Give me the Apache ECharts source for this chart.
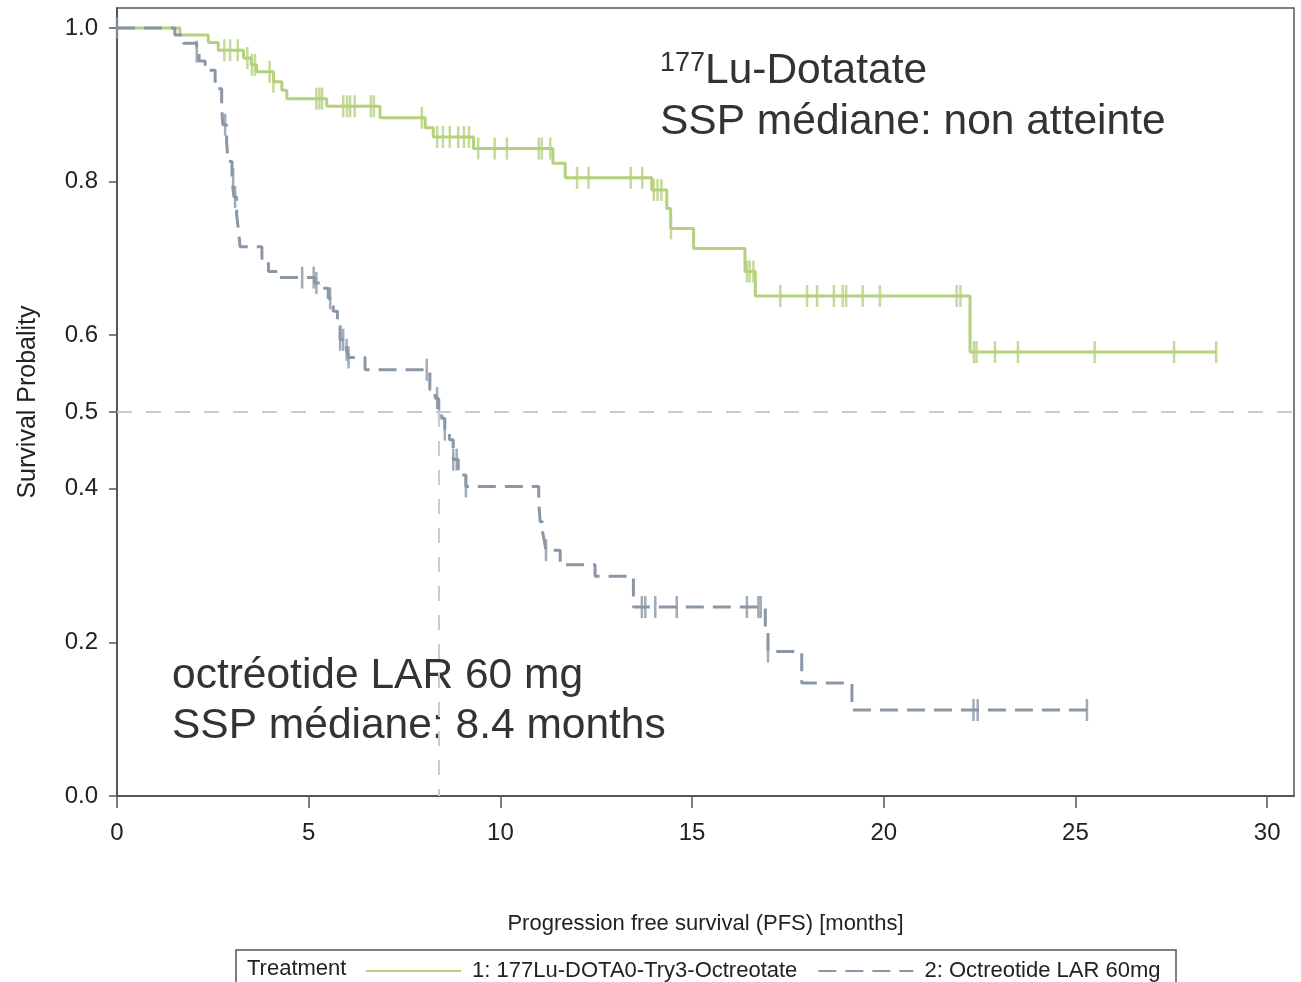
<!DOCTYPE html>
<html><head><meta charset="utf-8">
<script src="https://cdn.jsdelivr.net/npm/echarts@6/dist/echarts.min.js"></script>
<style>html,body{margin:0;padding:0;background:#fff}#c{width:1301px;height:982px}</style>
</head><body><div id="c"></div>
<script>
// ---- data ----
const xTicks = [0, 5, 10, 15, 20, 25, 30];
const yTicks = [0, 0.2, 0.4, 0.5, 0.6, 0.8, 1.0];

const luName = '1: 177Lu-DOTA0-Try3-Octreotate';
const luTimes = [0, 1.64, 2.38, 2.64, 3.30, 3.50, 3.64, 4.08, 4.30, 4.43, 5.47, 6.86, 8.04, 8.25, 9.30, 11.37, 11.69, 13.95, 14.34, 14.44, 15.04, 16.38, 16.65, 22.25, 28.67];
const luSurv  = [1.000, 0.991, 0.981, 0.971, 0.961, 0.952, 0.943, 0.930, 0.919, 0.908, 0.898, 0.883, 0.870, 0.858, 0.843, 0.824, 0.805, 0.789, 0.765, 0.739, 0.713, 0.683, 0.651, 0.578, 0.578];
const luCensor = [2.80, 2.95, 3.15, 3.40, 3.52, 3.60, 3.98, 4.08, 5.20, 5.28, 5.35, 5.90, 6.00, 6.08, 6.20, 6.62, 6.70, 7.95, 8.35, 8.50, 8.68, 8.90, 9.05, 9.18, 9.42, 9.85, 10.17, 11.00, 11.08, 11.30, 12.00, 12.30, 13.40, 13.70, 14.00, 14.10, 14.20, 14.45, 16.43, 16.50, 16.60, 17.30, 18.00, 18.26, 18.70, 18.93, 19.02, 19.45, 19.90, 21.90, 22.00, 22.35, 22.42, 22.90, 23.50, 25.50, 27.57, 28.67];

const ocName = '2: Octreotide LAR 60mg';
const ocTimes = [0, 1.51, 1.73, 2.08, 2.14, 2.30, 2.56, 2.73, 2.76, 2.86, 2.90, 3.00, 3.05, 3.12, 3.17, 3.21, 3.78, 3.95, 4.25, 5.16, 5.34, 5.51, 5.64, 5.75, 5.82, 5.99, 6.04, 6.47, 8.16, 8.30, 8.38, 8.47, 8.55, 8.67, 8.77, 8.90, 9.10, 11.00, 11.04, 11.10, 11.15, 11.19, 11.56, 12.47, 13.47, 16.91, 16.98, 17.86, 19.17, 25.30];
const ocSurv  = [1.000, 0.991, 0.980, 0.969, 0.957, 0.945, 0.921, 0.898, 0.874, 0.850, 0.826, 0.803, 0.780, 0.757, 0.736, 0.715, 0.700, 0.683, 0.675, 0.668, 0.661, 0.648, 0.631, 0.613, 0.594, 0.581, 0.571, 0.555, 0.529, 0.518, 0.503, 0.492, 0.477, 0.464, 0.438, 0.418, 0.403, 0.381, 0.357, 0.344, 0.331, 0.320, 0.301, 0.286, 0.246, 0.217, 0.188, 0.147, 0.112, 0.112];
const ocCensor = [0, 2.08, 2.82, 3.03, 3.08, 4.83, 5.13, 5.20, 5.56, 5.82, 5.90, 5.99, 6.04, 8.08, 8.35, 8.40, 8.55, 8.77, 8.86, 9.10, 11.19, 13.69, 13.78, 14.04, 14.60, 16.43, 16.73, 16.79, 16.98, 22.34, 22.45, 25.30];

const medianOct = 8.4;
const refLevel = 0.5;

// ---- helpers ----
function stepAt(times, surv, t) {
  let s = surv[0];
  for (let i = 0; i < times.length; i++) if (times[i] <= t + 1e-9) s = surv[i];
  return s;
}
const pairs = (ts, ss) => ts.map((t, i) => [t, ss[i]]);
const censorPts = (cs, ts, ss) => cs.map(t => [t, stepAt(ts, ss, t)]);

const GREEN = '#b4d27c';
const GREY = '#8a97a6';
const FONT = 'Liberation Sans, Arial, sans-serif';

const chart = echarts.init(document.getElementById('c'), null, {renderer: 'canvas'});
chart.setOption({
  animation: false,
  backgroundColor: '#fff',
  grid: {left: 117, right: 7, top: 8, bottom: 186, show: true, borderColor: '#555', borderWidth: 1.5, backgroundColor: 'transparent'},
  xAxis: {
    type: 'value', min: 0, max: 30.7,
    name: 'Progression free survival (PFS) [months]', nameLocation: 'middle', nameGap: 117,
    nameTextStyle: {fontFamily: FONT, fontSize: 22, color: '#222'},
    axisLine: {show: true, onZero: false, lineStyle: {color: '#555', width: 2}},
    axisTick: {show: true, length: 12, customValues: xTicks, lineStyle: {color: '#555', width: 1.5}},
    axisLabel: {customValues: xTicks, fontFamily: FONT, fontSize: 24, color: '#222', margin: 25},
    splitLine: {show: false}
  },
  yAxis: {
    type: 'value', min: 0, max: 1.026,
    name: 'Survival Probality', nameLocation: 'middle', nameGap: 76,
    nameTextStyle: {fontFamily: FONT, fontSize: 25, color: '#222'},
    axisLine: {show: true, onZero: false, lineStyle: {color: '#555', width: 2}},
    axisTick: {show: true, length: 8, customValues: yTicks, lineStyle: {color: '#555', width: 1.5}},
    axisLabel: {customValues: yTicks, fontFamily: FONT, fontSize: 24, color: '#222', margin: 19,
      formatter: v => v.toFixed(1)},
    splitLine: {show: false}
  },
  legend: {
    left: 360, top: 955, itemWidth: 95, itemHeight: 14, itemGap: 20,
    data: [luName, ocName],
    itemStyle: {opacity: 0, borderWidth: 0},
    textStyle: {fontFamily: FONT, fontSize: 22, color: '#222'},
    formatter: n => ' ' + n
  },
  graphic: [
    {type: 'rect', shape: {x: 236, y: 950, width: 940, height: 50}, style: {fill: 'none', stroke: '#555', lineWidth: 1.5}},
    {type: 'text', x: 247, y: 969, style: {text: 'Treatment', font: '22px ' + FONT, fill: '#222', verticalAlign: 'middle'}},
    {type: 'text', x: 660, y: 64, style: {text: '177', font: '27px ' + FONT, fill: '#333', verticalAlign: 'middle'}},
    {type: 'text', x: 705, y: 71, style: {text: 'Lu-Dotatate', font: '42.5px ' + FONT, fill: '#333', verticalAlign: 'middle'}},
    {type: 'text', x: 660, y: 122, style: {text: 'SSP médiane: non atteinte', font: '42.5px ' + FONT, fill: '#333', verticalAlign: 'middle'}},
    {type: 'text', x: 172, y: 676, style: {text: 'octréotide LAR 60 mg', font: '42.5px ' + FONT, fill: '#333', verticalAlign: 'middle'}},
    {type: 'text', x: 172, y: 726, style: {text: 'SSP médiane: 8.4 months', font: '42.5px ' + FONT, fill: '#333', verticalAlign: 'middle'}}
  ],
  series: [
    {
      type: 'line', name: 'ref', data: [], silent: true, z: 1,
      markLine: {
        silent: true, symbol: 'none', label: {show: false},
        lineStyle: {color: '#c7cbd2', type: [15, 14], width: 2},
        data: [
          {yAxis: refLevel},
          [{coord: [medianOct, refLevel]}, {coord: [medianOct, 0]}]
        ]
      }
    },
    {
      type: 'line', name: luName, step: 'end', symbol: 'none', showSymbol: false, z: 3,
      data: pairs(luTimes, luSurv),
      lineStyle: {color: GREEN, width: 3}, itemStyle: {color: GREEN}
    },
    {
      type: 'line', name: ocName, step: 'end', symbol: 'none', showSymbol: false, z: 3,
      data: pairs(ocTimes, ocSurv),
      lineStyle: {color: GREY, width: 3, type: [18, 9]}, itemStyle: {color: GREY}
    },
    {
      type: 'scatter', name: 'luCensor', symbol: 'rect', symbolSize: [2.5, 22], z: 4,
      data: censorPts(luCensor, luTimes, luSurv), itemStyle: {color: GREEN}
    },
    {
      type: 'scatter', name: 'ocCensor', symbol: 'rect', symbolSize: [2.5, 22], z: 4,
      data: censorPts(ocCensor, ocTimes, ocSurv), itemStyle: {color: GREY}
    }
  ]
});
</script></body></html>
